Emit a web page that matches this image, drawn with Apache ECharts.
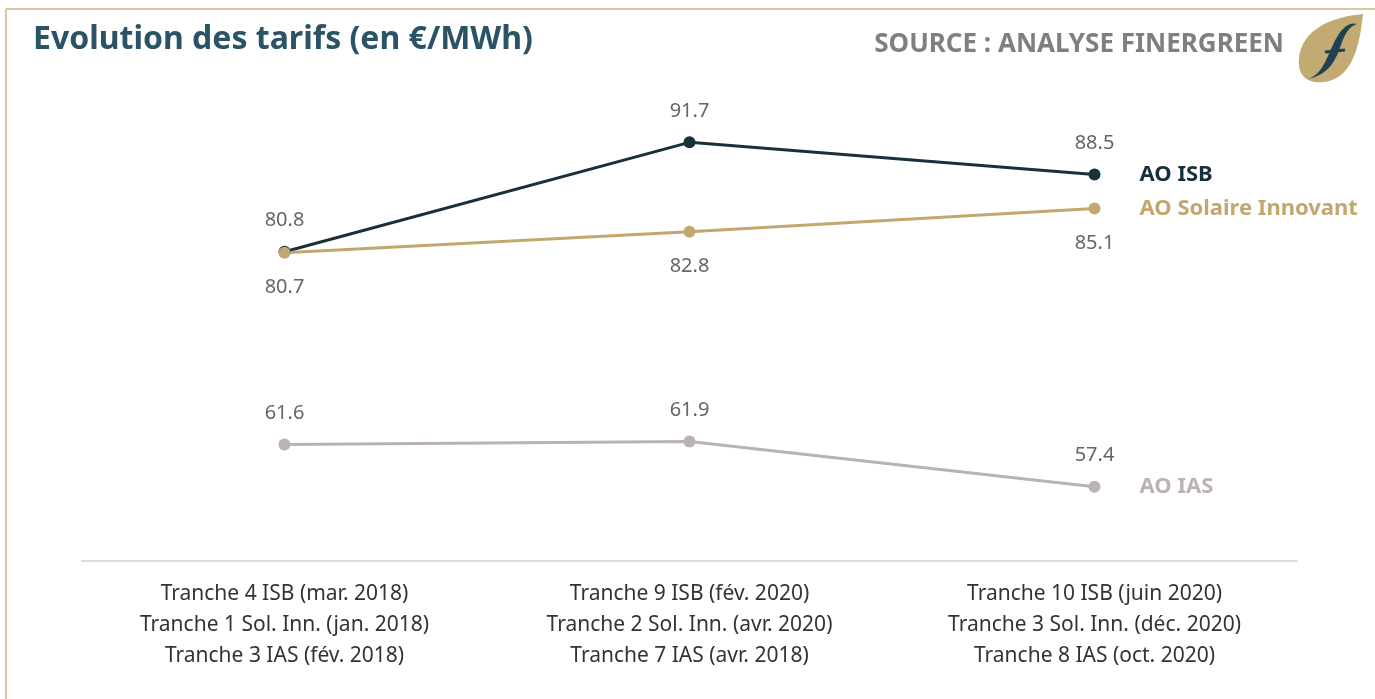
<!DOCTYPE html>
<html>
<head>
<meta charset="utf-8">
<script src="https://cdn.jsdelivr.net/npm/echarts@6/dist/echarts.min.js"></script>
<style>
  html, body { margin: 0; padding: 0; background: #fff; }
  #main { width: 1375px; height: 699px; }
</style>
</head>
<body>
<div id="main"></div>
<script>
// catégories (tranches)
var categories = [
  'Tranche 4 ISB (mar. 2018)\nTranche 1 Sol. Inn. (jan. 2018)\nTranche 3 IAS (fév. 2018)',
  'Tranche 9 ISB (fév. 2020)\nTranche 2 Sol. Inn. (avr. 2020)\nTranche 7 IAS (avr. 2018)',
  'Tranche 10 ISB (juin 2020)\nTranche 3 Sol. Inn. (déc. 2020)\nTranche 8 IAS (oct. 2020)'
];
var seriesNames = ['AO ISB', 'AO Solaire Innovant', 'AO IAS'];
var isbData = [80.8, 91.7, 88.5];
var solaireData = [80.7, 82.8, 85.1];
var iasData = [61.6, 61.9, 57.4];

var font = '"Noto Sans", sans-serif';
var chart = echarts.init(document.getElementById('main'));

function makeSeries(name, data, color, labelPos, dist) {
  return {
    name: name,
    type: 'line',
    data: data,
    symbol: 'circle',
    symbolSize: 12,
    lineStyle: { color: color, width: 3 },
    itemStyle: { color: color },
    label: {
      show: true,
      position: labelPos,
      distance: dist,
      color: '#666666',
      fontSize: 20,
      fontFamily: font,
      formatter: function (p) { return p.value.toFixed(1); }
    },
    endLabel: {
      show: true,
      formatter: name,
      distance: 45,
      color: color,
      fontSize: 22,
      fontWeight: 'bold',
      fontFamily: font
    },
    emphasis: { disabled: true },
    animation: false
  };
}

// logo (feuille + f) dessiné en pixels
var logoSeries = {
  type: 'custom',
  coordinateSystem: 'none',
  silent: true,
  data: [0],
  renderItem: function () {
    return {
      type: 'group',
      children: [{
        type: 'path',
        shape: { pathData: 'M1363 14 C1330 17 1302 30 1299 58 C1297 76 1308 84 1324 82 C1350 79 1359 52 1363 14 Z' },
        style: { fill: '#c3aa72' }
      }, {
        type: 'path',
        shape: { pathData: 'M1308 79 C1326 74 1329 46 1341 31 C1346 25 1352 22 1357 24 C1350 26 1346 32 1342 42 C1336 60 1330 74 1308 79 Z' },
        style: { fill: '#1f4253' }
      }, {
        type: 'path',
        shape: { pathData: 'M1325 52 L1345 50' },
        style: { fill: null, stroke: '#1f4253', lineWidth: 3 }
      }]
    };
  }
};

chart.setOption({
  backgroundColor: '#ffffff',
  animation: false,
  title: [{
    text: 'Evolution des tarifs (en €/MWh)',
    left: 28,
    top: 19,
    textStyle: { color: '#2a5366', fontSize: 32, fontWeight: 'bold', fontFamily: font }
  }, {
    text: 'SOURCE : ANALYSE FINERGREEN',
    right: 86,
    top: 27,
    textStyle: { color: '#7f7f7f', fontSize: 26, fontWeight: 'bold', fontFamily: font }
  }],
  grid: { left: 82, right: 78, top: 59, bottom: 138 },
  xAxis: {
    type: 'category',
    data: categories,
    boundaryGap: true,
    axisLine: { lineStyle: { color: '#dddddd', width: 2 } },
    axisTick: { show: false },
    axisLabel: {
      color: '#333333',
      fontSize: 21,
      lineHeight: 31,
      fontFamily: font,
      margin: 18,
      interval: 0
    }
  },
  yAxis: {
    type: 'value',
    min: 50,
    max: 100,
    show: false,
    splitLine: { show: false }
  },
  series: [
    makeSeries(seriesNames[0], isbData, '#17303c', 'top', 15),
    makeSeries(seriesNames[1], solaireData, '#c2a86e', 'bottom', 19),
    makeSeries(seriesNames[2], iasData, '#bcb2b2', 'top', 15),
    logoSeries
  ],
  graphic: [
    // cadre
    { type: 'line', shape: { x1: 6, y1: 9, x2: 1375, y2: 9 }, style: { stroke: '#d8c89f', lineWidth: 2 } },
    { type: 'line', shape: { x1: 6, y1: 9, x2: 6, y2: 699 }, style: { stroke: '#d8c89f', lineWidth: 2 } }
  ]
});
</script>
</body>
</html>
